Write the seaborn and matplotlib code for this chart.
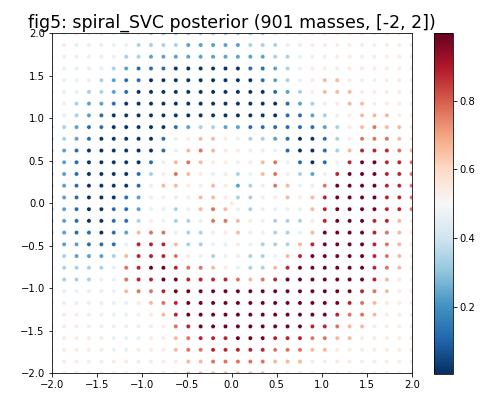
import numpy as np
import pandas as pd
import matplotlib
matplotlib.use("Agg")
import matplotlib.pyplot as plt
import matplotlib.colors as mcolors
from matplotlib.cm import ScalarMappable
import seaborn as sns

# Posterior level per grid mass.
# Rows run from y = 2 (top) to y = -2 (bottom); columns from x = -2 to x = 2.
# Level digit -> posterior value via LEVEL_VALUES.
LEVEL_VALUES = [0.01, 0.12, 0.23, 0.34, 0.46, 0.54, 0.66, 0.77, 0.88, 0.99]
GRID_ROWS = [
    "555444443333333" + "333444555555555",
    "554444433332222" + "233344555555555",
    "444444332222222" + "222334555555555",
    "444443211100000" + "011234555555555",
    "444432110000000" + "001234566555555",
    "444332100000000" + "000123566655555",
    "443221000000000" + "000012345665555",
    "443210000000000" + "000011234566655",
    "332110000012332" + "211111123567665",
    "332100000145665" + "433210013577765",
    "321000000146765" + "555410013688876",
    "321000001467655" + "456741015899887",
    "321000013576545" + "346753248999887",
    "321000014665565" + "235764479999887",
    "321000124555665" + "334565689999887",
    "321001124434676" + "434444689999887",
    "321001135433477" + "654333589998865",
    "321101267743345" + "654334699998765",
    "322111488863344" + "543336899998765",
    "432223688875434" + "433468999998765",
    "433334789987765" + "433689999998765",
    "433344788998888" + "767899999998655",
    "444444677899999" + "999999999987655",
    "444444456789999" + "999999999876555",
    "555444445689999" + "999999998776555",
    "555444445578999" + "999999887665555",
    "555554445567888" + "999888776655555",
    "555554455567788" + "888777665555555",
    "555555555556677" + "777666555555555",
    "555555555556666" + "666555555555555",
]
GRID_X = np.linspace(-2, 2, 30)
GRID_Y = np.linspace(2, -2, 30)
# the extra (901st) mass at the origin
EXTRA_X = [0.0]
EXTRA_Y = [0.0]
EXTRA_P = [0.55]

TITLE = "fig5: spiral_SVC posterior (901 masses, [-2, 2])"
X_TICKS = [-2.0, -1.5, -1.0, -0.5, 0.0, 0.5, 1.0, 1.5, 2.0]
Y_TICKS = [-2.0, -1.5, -1.0, -0.5, 0.0, 0.5, 1.0, 1.5, 2.0]
CBAR_TICKS = [0.2, 0.4, 0.6, 0.8]
P_MIN, P_MAX = 0.005, 0.996

xs, ys, ps = [], [], []
for r, row in enumerate(GRID_ROWS):
    for c, ch in enumerate(row):
        xs.append(GRID_X[c])
        ys.append(GRID_Y[r])
        ps.append(LEVEL_VALUES[int(ch)])
xs += EXTRA_X
ys += EXTRA_Y
ps += EXTRA_P
df = pd.DataFrame({"x": xs, "y": ys, "p": ps})

W, H = 498, 395
fig = plt.figure(figsize=(W / 72, H / 72), dpi=72)
ax = fig.add_axes([51.7 / W, (H - 373.3) / H, 360 / W, 340 / H])
cax = fig.add_axes([434 / W, (H - 374) / H, 18.7 / W, 340.7 / H])

norm = mcolors.Normalize(vmin=P_MIN, vmax=P_MAX)
sns.scatterplot(data=df, x="x", y="y", hue="p", palette="RdBu_r", hue_norm=norm,
                s=18, edgecolor="white", linewidth=0.3, legend=False, ax=ax)
ax.set_xlim(-2, 2)
ax.set_ylim(-2, 2)
ax.set_xticks(X_TICKS)
ax.set_yticks(Y_TICKS)
ax.set_xlabel("")
ax.set_ylabel("")
ax.tick_params(labelsize=10)
ax.set_title(TITLE, fontsize=17.4)

sm = ScalarMappable(norm=norm, cmap="RdBu_r")
cb = fig.colorbar(sm, cax=cax, ticks=CBAR_TICKS)
cb.ax.tick_params(labelsize=10)

fig.savefig("out.png", dpi=72)
